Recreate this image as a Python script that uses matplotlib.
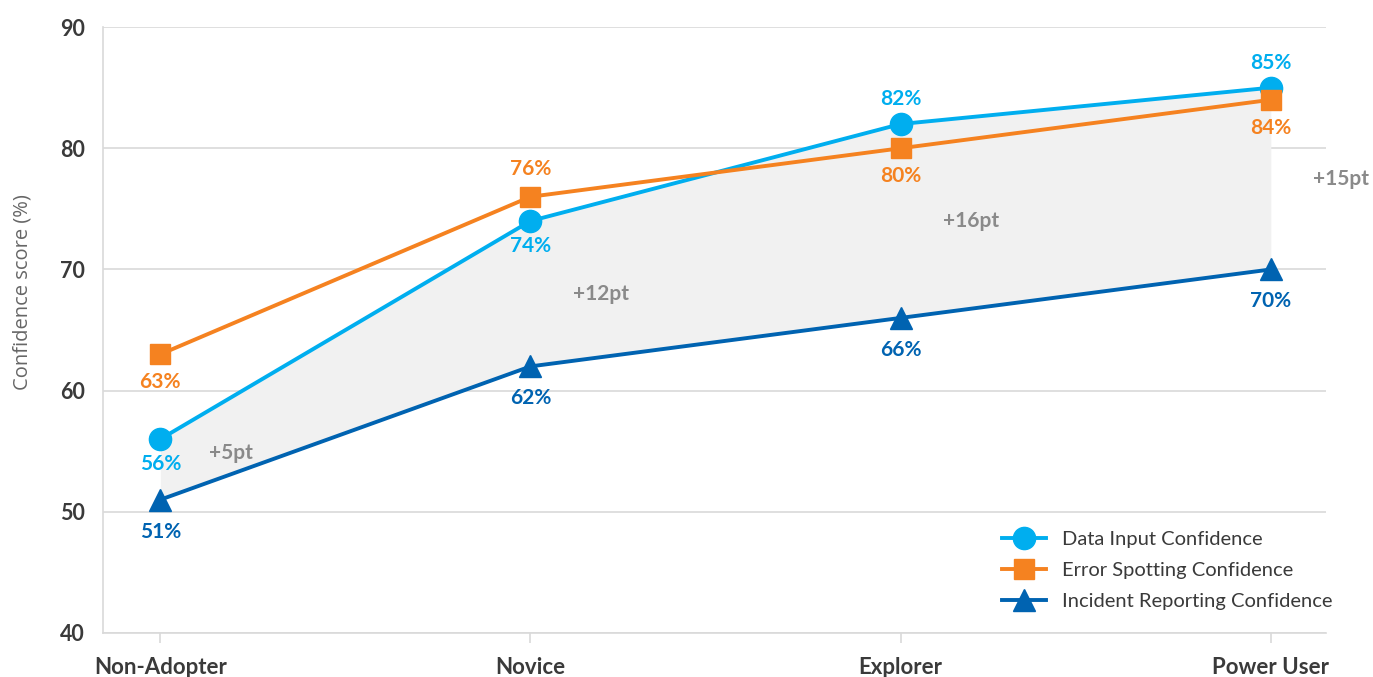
import numpy as np
import matplotlib.pyplot as plt

plt.rcParams['font.family'] = ['Lato', 'DejaVu Sans']

# adoption stages and confidence scores (%)
stages = ['Non-Adopter', 'Novice', 'Explorer', 'Power User']
data_input = [56, 74, 82, 85]
error_spotting = [63, 76, 80, 84]
incident_reporting = [51, 62, 66, 70]

c_data = '#00AEEF'
c_error = '#F58220'
c_incident = '#0063B1'
c_gap = '#8A8A8A'
c_text = '#3A3A3A'

fig = plt.figure(figsize=(13.73, 6.77), dpi=100)
ax = fig.add_axes([0.075, 0.065, 0.891, 0.895])
x = np.arange(len(stages))

# shaded gap between data input and incident reporting
ax.fill_between(x, incident_reporting, data_input, color='#F1F1F1', zorder=1, lw=0)

ax.plot(x, data_input, color=c_data, lw=2.8, marker='o', ms=16, zorder=3,
        label='Data Input Confidence')
ax.plot(x, error_spotting, color=c_error, lw=2.8, marker='s', ms=14, zorder=4,
        label='Error Spotting Confidence')
ax.plot(x, incident_reporting, color=c_incident, lw=2.8, marker='^', ms=16, zorder=5,
        label='Incident Reporting Confidence')

# value labels: +1 above the marker, -1 below
series = [
    (data_input, c_data, [-1, -1, 1, 1], 18),
    (error_spotting, c_error, [-1, 1, -1, -1], 20),
    (incident_reporting, c_incident, [-1, -1, -1, -1], 23),
]
for vals, col, sides, off in series:
    for i, (v, s) in enumerate(zip(vals, sides)):
        ax.annotate(f'{v}%', (i, v), xytext=(0, s * off), textcoords='offset points',
                    ha='center', va='center', fontsize=15, fontweight='bold',
                    color=col, zorder=6)

# gap labels
gap_nudge = [1.35, 0, 0, 0]
for i, (hi, lo) in enumerate(zip(data_input, incident_reporting)):
    ax.text(i + 0.19, (hi + lo) / 2 + gap_nudge[i], f'+{hi - lo}pt', ha='center',
            va='center', fontsize=15, fontweight='bold', color=c_gap, zorder=6)

ax.set_xlim(-0.155, 3.15)
ax.set_ylim(40, 90)
ax.set_yticks(range(40, 91, 10))
ax.set_xticks(x)
ax.set_xticklabels(stages)
ax.grid(axis='y', color='#D9D9D9', lw=1.2, zorder=0)
ax.set_axisbelow(True)
for side in ['top', 'right']:
    ax.spines[side].set_visible(False)
for side in ['left', 'bottom']:
    ax.spines[side].set_color('#D9D9D9')
    ax.spines[side].set_linewidth(1.2)
ax.tick_params(axis='y', length=0, pad=13, labelsize=15.5, labelcolor=c_text)
ax.tick_params(axis='x', length=7, width=1.2, color='#D9D9D9', pad=10,
               labelsize=16, labelcolor=c_text)
for lab in ax.get_xticklabels() + ax.get_yticklabels():
    lab.set_fontweight('bold')

ax.set_ylabel('Confidence score (%)', fontsize=14.5, color='#666666',
              family=['Open Sans', 'DejaVu Sans'])
ax.yaxis.set_label_coords(-0.058, 0.563)

ax.legend(loc='center left', bbox_to_anchor=(0.72, 0.103), frameon=False,
          fontsize=14.5, handlelength=2.2, labelspacing=0.68, handletextpad=0.8,
          labelcolor=c_text)

fig.savefig('out.png', dpi=100)
